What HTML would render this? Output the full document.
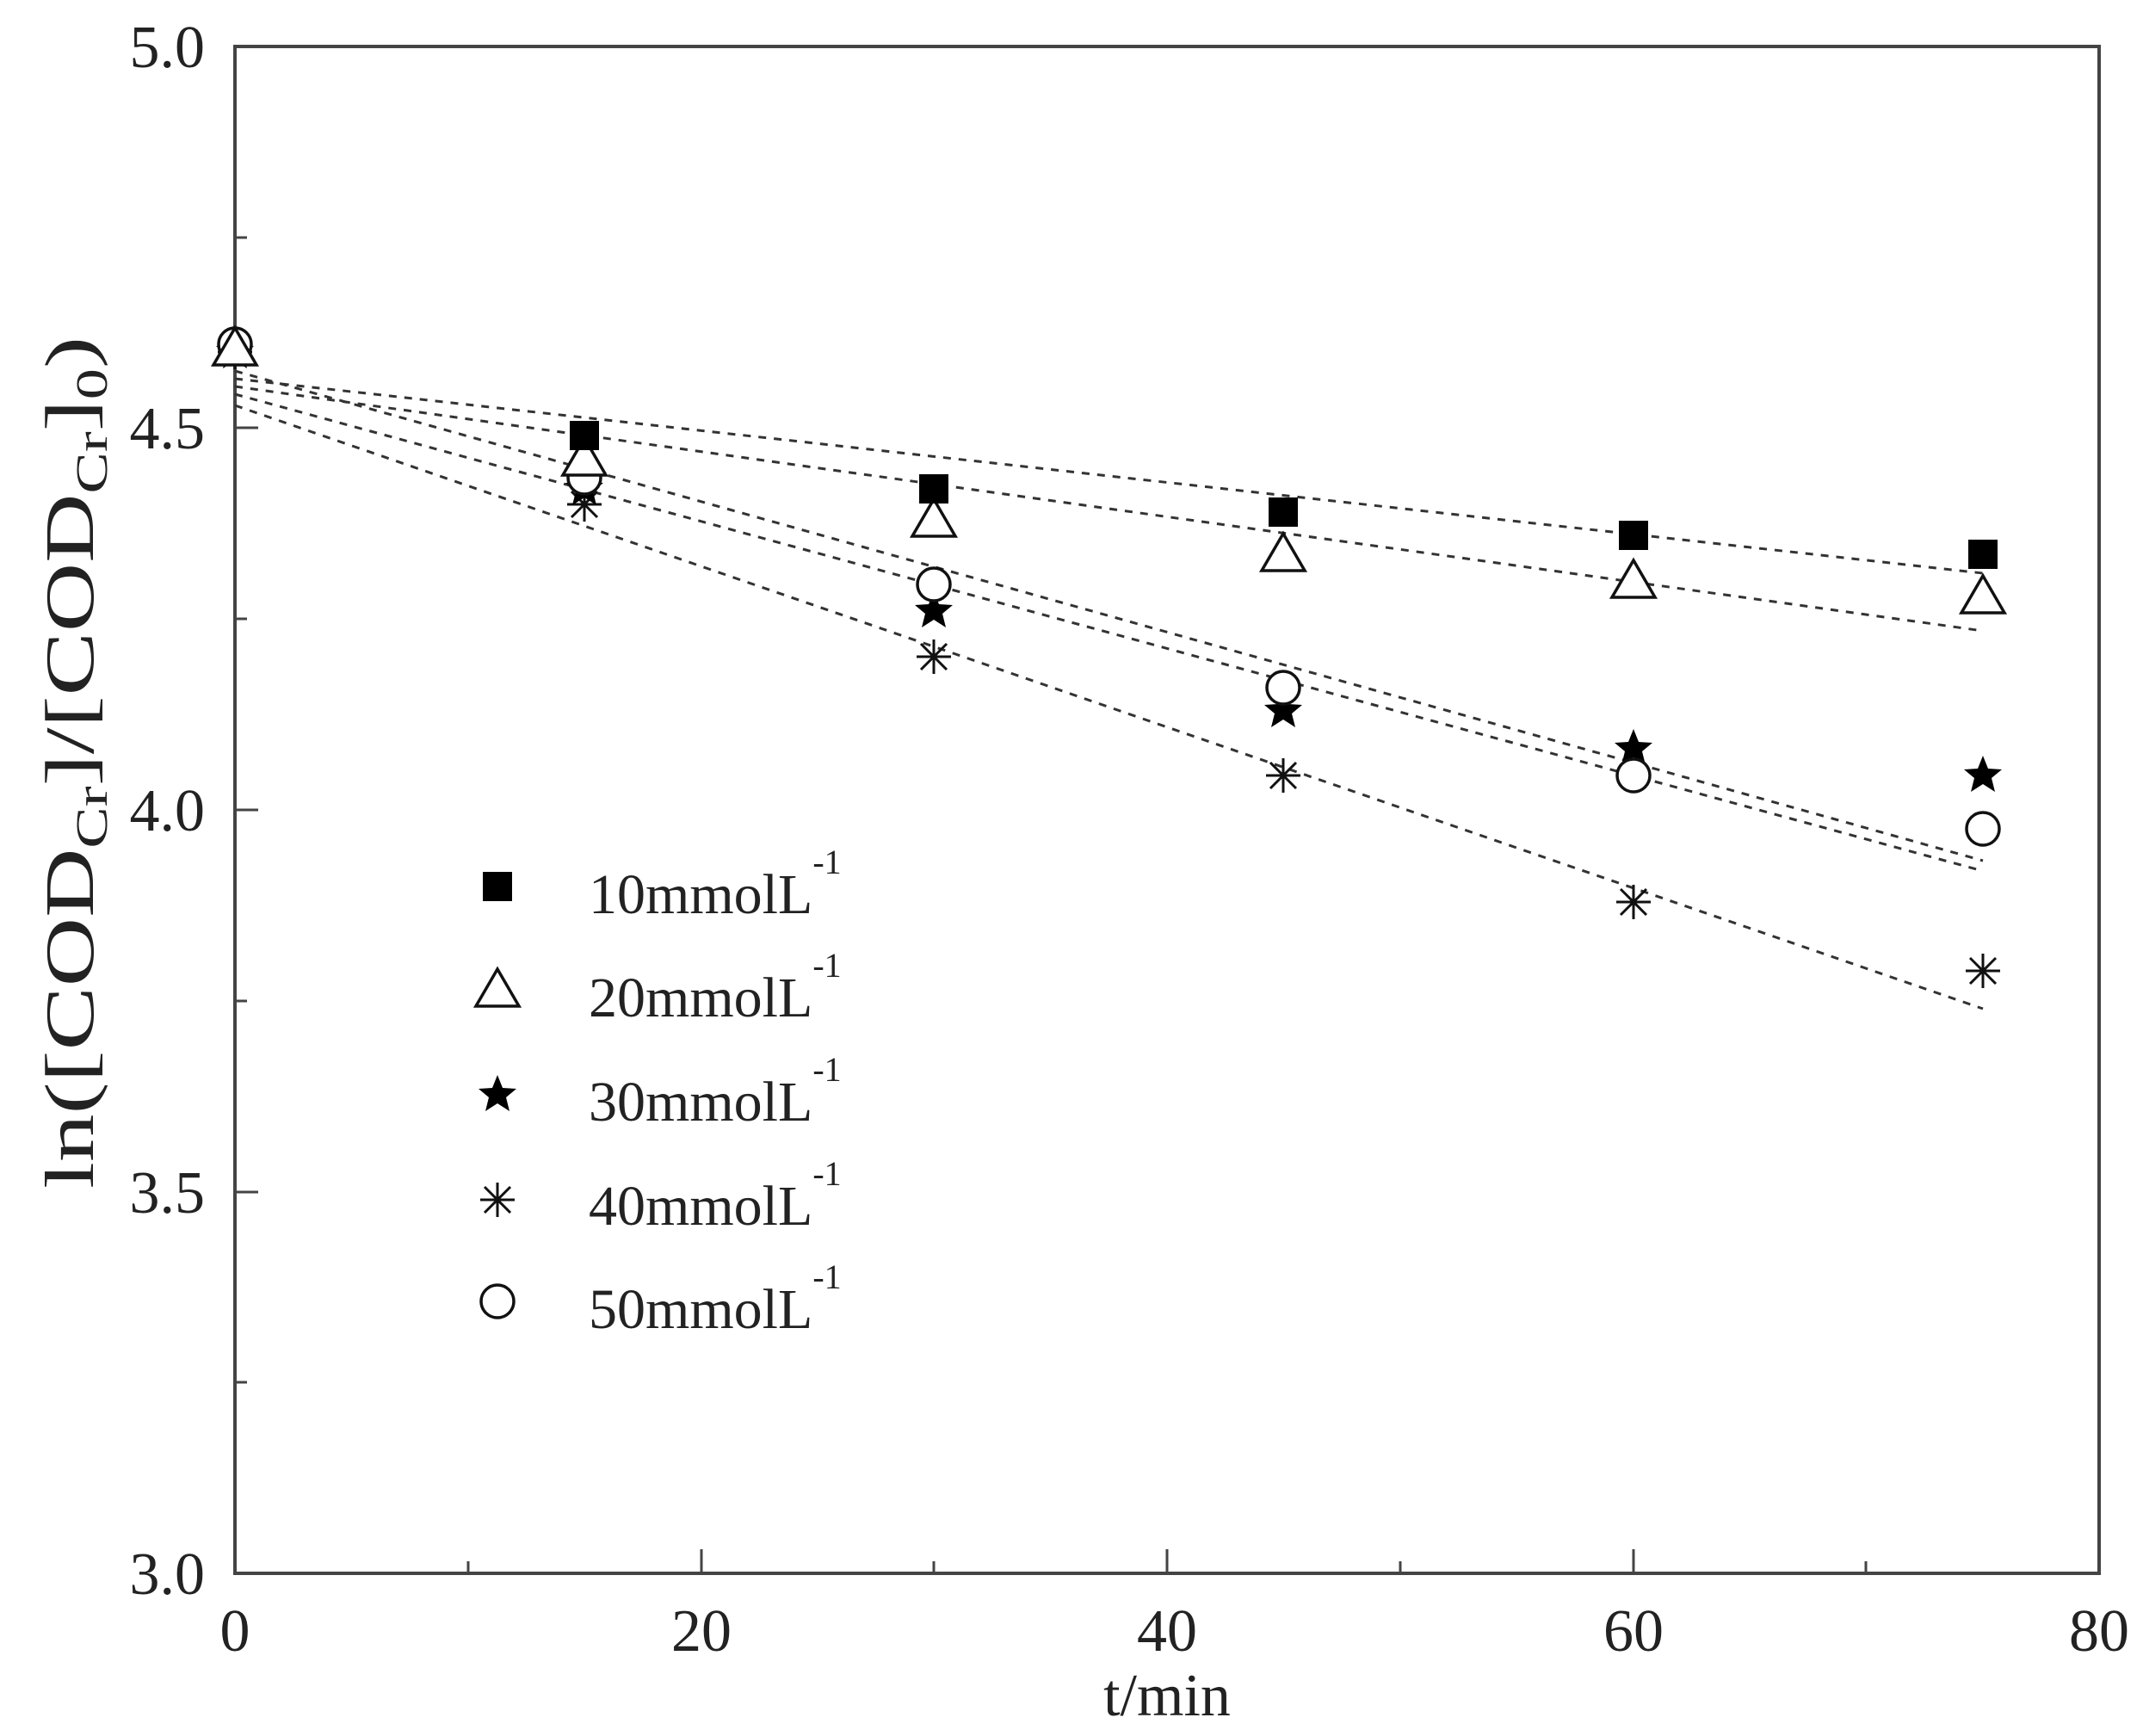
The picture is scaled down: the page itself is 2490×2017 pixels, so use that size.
<!DOCTYPE html>
<html><head><meta charset="utf-8"><style>html,body{margin:0;padding:0;background:#fff}svg{display:block}</style></head>
<body>
<svg width="2490" height="2017" viewBox="0 0 2490 2017" xmlns="http://www.w3.org/2000/svg" font-family="'Liberation Serif', serif" fill="#222">
<defs>
<g id="sq"><rect x="-17" y="-17" width="34" height="34" fill="#000"/></g>
<g id="tri"><polygon points="0,-24 25,19 -25,19" fill="#fff" stroke="#111" stroke-width="3.5"/></g>
<g id="star"><polygon points="0,-23 6,-8 22,-7 10,3 14,19 0,10 -14,19 -10,3 -22,-7 -6,-8" fill="#000"/></g>
<g id="ast" stroke="#111" stroke-width="3"><line x1="-20" y1="0" x2="20" y2="0"/><line x1="0" y1="-20" x2="0" y2="20"/><line x1="-15" y1="-15" x2="15" y2="15"/><line x1="-15" y1="15" x2="15" y2="-15"/></g>
<g id="cir"><circle r="19" fill="#fff" stroke="#111" stroke-width="3.5"/></g>
</defs>
<rect x="273" y="54" width="2166" height="1774" fill="none" stroke="#444" stroke-width="4"/>
<g stroke="#444" stroke-width="3">
<line x1="273" y1="497" x2="300" y2="497"/><line x1="273" y1="941" x2="300" y2="941"/><line x1="273" y1="1385" x2="300" y2="1385"/>
<line x1="273" y1="276" x2="287" y2="276"/><line x1="273" y1="719" x2="287" y2="719"/><line x1="273" y1="1163" x2="287" y2="1163"/><line x1="273" y1="1606" x2="287" y2="1606"/>
<line x1="815" y1="1828" x2="815" y2="1800"/><line x1="1356" y1="1828" x2="1356" y2="1800"/><line x1="1898" y1="1828" x2="1898" y2="1800"/>
<line x1="544" y1="1828" x2="544" y2="1814"/><line x1="1085" y1="1828" x2="1085" y2="1814"/><line x1="1627" y1="1828" x2="1627" y2="1814"/><line x1="2168" y1="1828" x2="2168" y2="1814"/>
</g>
<g font-size="70" text-anchor="end">
<text x="238" y="78">5.0</text><text x="238" y="521">4.5</text><text x="238" y="965">4.0</text><text x="238" y="1409">3.5</text><text x="238" y="1852">3.0</text>
</g>
<g font-size="70" text-anchor="middle">
<text x="273" y="1918">0</text><text x="815" y="1918">20</text><text x="1356" y="1918">40</text><text x="1898" y="1918">60</text><text x="2439" y="1918">80</text>
<text x="1356" y="1993">t/min</text>
</g>
<text transform="translate(108,1381) rotate(-90)" font-size="80" textLength="990" lengthAdjust="spacingAndGlyphs">ln([COD<tspan font-size="52" dy="16">Cr</tspan><tspan dy="-16">]/[COD</tspan><tspan font-size="52" dy="16">Cr</tspan><tspan dy="-16">]</tspan><tspan font-size="52" dy="16">0</tspan><tspan dy="-16">)</tspan></text>
<g stroke="#333" stroke-width="3" stroke-dasharray="9,9" fill="none">
<line x1="273" y1="440" x2="2304" y2="666"/>
<line x1="273" y1="449" x2="2304" y2="733"/>
<line x1="273" y1="431" x2="2304" y2="1000"/>
<line x1="273" y1="471" x2="2304" y2="1172"/>
<line x1="273" y1="458" x2="2304" y2="1012"/>
</g>
<g>
<use href="#ast" x="273" y="409"/><use href="#ast" x="679" y="586"/><use href="#ast" x="1085" y="763"/><use href="#ast" x="1491" y="901"/><use href="#ast" x="1898" y="1048"/><use href="#ast" x="2304" y="1128"/>
<use href="#star" x="273" y="409"/><use href="#star" x="679" y="568"/><use href="#star" x="1085" y="710"/><use href="#star" x="1491" y="826"/><use href="#star" x="1898" y="870"/><use href="#star" x="2304" y="901"/>
<use href="#cir" x="273" y="400"/><use href="#cir" x="679" y="555"/><use href="#cir" x="1085" y="679"/><use href="#cir" x="1491" y="799"/><use href="#cir" x="1898" y="901"/><use href="#cir" x="2304" y="963"/>
<use href="#tri" x="273" y="405"/><use href="#tri" x="679" y="533"/><use href="#tri" x="1085" y="604"/><use href="#tri" x="1491" y="644"/><use href="#tri" x="1898" y="675"/><use href="#tri" x="2304" y="693"/>
<use href="#sq" x="679" y="506"/><use href="#sq" x="1085" y="568"/><use href="#sq" x="1491" y="595"/><use href="#sq" x="1898" y="622"/><use href="#sq" x="2304" y="644"/>
</g>
<use href="#sq" x="578" y="1030"/><use href="#tri" x="578" y="1150"/><use href="#star" x="578" y="1272"/><use href="#ast" x="578" y="1394"/><use href="#cir" x="578" y="1512"/>
<g font-size="66">
<text x="684" y="1061">10mmolL<tspan font-size="40" dy="-46">-1</tspan></text>
<text x="684" y="1181">20mmolL<tspan font-size="40" dy="-46">-1</tspan></text>
<text x="684" y="1302">30mmolL<tspan font-size="40" dy="-46">-1</tspan></text>
<text x="684" y="1423">40mmolL<tspan font-size="40" dy="-46">-1</tspan></text>
<text x="684" y="1543">50mmolL<tspan font-size="40" dy="-46">-1</tspan></text>
</g>
</svg>
</body></html>
